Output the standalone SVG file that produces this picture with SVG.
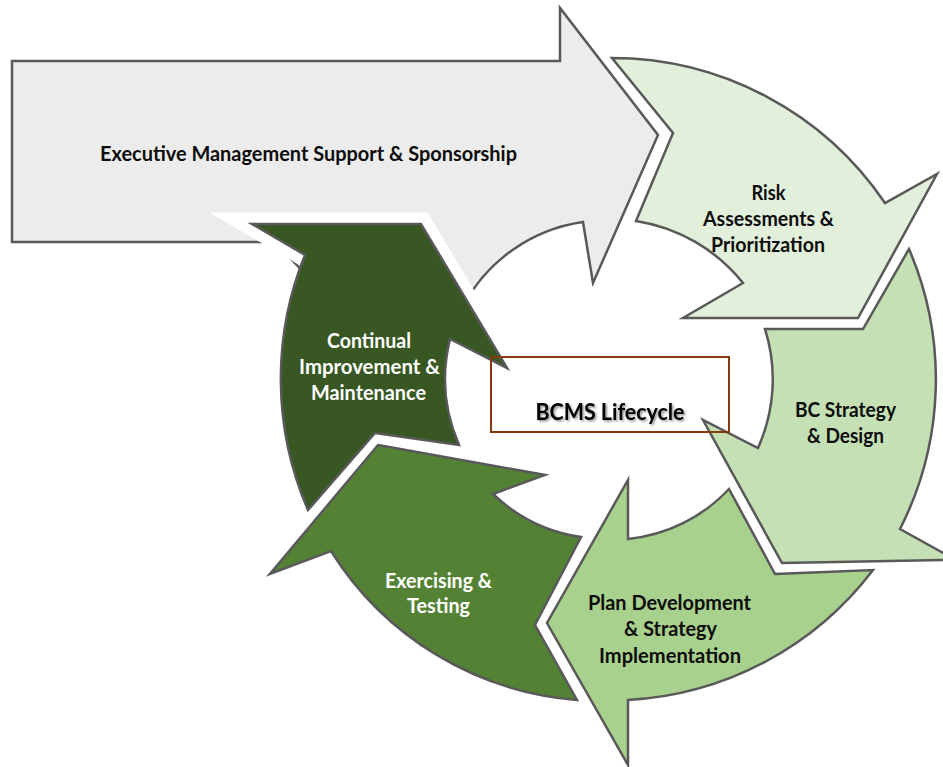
<svg xmlns="http://www.w3.org/2000/svg" width="943" height="767" viewBox="0 0 943 767">
  <style>
    .shape { stroke: #595959; stroke-width: 2.5; stroke-linejoin: miter; }
    .halo { fill: none; stroke: #ffffff; stroke-width: 23; stroke-linejoin: miter; stroke-miterlimit: 4; }
    .lbl { font-family: Lato, "Open Sans", "Liberation Sans", sans-serif; font-weight: bold; font-size: 20px; text-anchor: middle; }
    .dark { fill: #0d0d0d; }
    .light { fill: #ffffff; }
    .title { font-size: 22px; fill: #000000; }
  </style>
  <defs>
    <filter id="softShadow" x="-10%" y="-30%" width="120%" height="160%">
      <feDropShadow dx="1.5" dy="1.5" stdDeviation="1" flood-color="#000000" flood-opacity="0.45"/>
    </filter>
  </defs>

  <!-- Executive support banner arrow -->
  <g id="executive-support">
    <path class="shape" fill="#ececec" d="M12,61 H560 V8 L658,135 L593,283 L583,222 A162,162 0 0 0 463,306 L330,300 L275,242 H12 Z"/>
    <text class="lbl dark" x="308.5" y="161" textLength="417" lengthAdjust="spacingAndGlyphs">Executive Management Support &amp; Sponsorship</text>
  </g>

  <!-- Cycle arrows -->
  <g id="continual-improvement">
    <path class="halo" d="M305,255 L252,224 L421,224 L507,368"/>
    <path class="shape" fill="#385723" d="M252,224 L421,224 L507,368 L450,339 A165,165 0 0 0 459,445 L375,433 L308,510 A330,330 0 0 1 305,255 Z"/>
    <text class="lbl light" x="369" y="348" textLength="84" lengthAdjust="spacingAndGlyphs">Continual</text>
    <text class="lbl light" x="369.5" y="374" textLength="141" lengthAdjust="spacingAndGlyphs">Improvement &amp;</text>
    <text class="lbl light" x="368.5" y="400" textLength="115" lengthAdjust="spacingAndGlyphs">Maintenance</text>
  </g>

  <g id="risk-assessments">
    <path class="shape" fill="#e2efda" d="M612,58 A330,330 0 0 1 885,203 L937,174 L858,318 L683,318 L743,283 A170,170 0 0 0 636,221 L673,133 Z"/>
    <text class="lbl dark" x="768.5" y="200" textLength="34" lengthAdjust="spacingAndGlyphs">Risk</text>
    <text class="lbl dark" x="768.5" y="226" textLength="131" lengthAdjust="spacingAndGlyphs">Assessments &amp;</text>
    <text class="lbl dark" x="768" y="252" textLength="114" lengthAdjust="spacingAndGlyphs">Prioritization</text>
  </g>

  <g id="bc-strategy">
    <path class="shape" fill="#c5e0b4" d="M909,249 A330,330 0 0 1 900,529 L945,554 L945,560 L782,563 L703,420 L758,448 A167,167 0 0 0 765,329 L863,329 Z"/>
    <text class="lbl dark" x="845.5" y="417" textLength="101" lengthAdjust="spacingAndGlyphs">BC Strategy</text>
    <text class="lbl dark" x="845.5" y="443" textLength="77" lengthAdjust="spacingAndGlyphs">&amp; Design</text>
  </g>

  <g id="plan-development">
    <path class="shape" fill="#a9d18e" d="M729,489 L775,574 L873,570 A330,330 0 0 1 628,700 L628,765 L547,623 L628,480 L628,539 A160,160 0 0 0 729,489 Z"/>
    <text class="lbl dark" x="669.5" y="610" textLength="163" lengthAdjust="spacingAndGlyphs">Plan Development</text>
    <text class="lbl dark" x="670.5" y="636" textLength="93" lengthAdjust="spacingAndGlyphs">&amp; Strategy</text>
    <text class="lbl dark" x="670" y="663" textLength="142" lengthAdjust="spacingAndGlyphs">Implementation</text>
  </g>

  <g id="exercising-testing">
    <path class="shape" fill="#548235" d="M378,445 L545,475 L493,494 A160,160 0 0 0 581,537 L535,625 L577,700 A320,320 0 0 1 331,551 L270,574 Z"/>
    <text class="lbl light" x="438.5" y="588" textLength="107" lengthAdjust="spacingAndGlyphs">Exercising &amp;</text>
    <text class="lbl light" x="438.5" y="613" textLength="63" lengthAdjust="spacingAndGlyphs">Testing</text>
  </g>

  <!-- Centre caption box -->
  <g id="bcms-lifecycle">
    <rect x="491" y="357" width="238" height="75" fill="none" stroke="#843c0c" stroke-width="2"/>
    <text class="lbl title" x="610" y="420" textLength="149" lengthAdjust="spacingAndGlyphs" filter="url(#softShadow)">BCMS Lifecycle</text>
  </g>

  <g id="connectors"></g>
</svg>
